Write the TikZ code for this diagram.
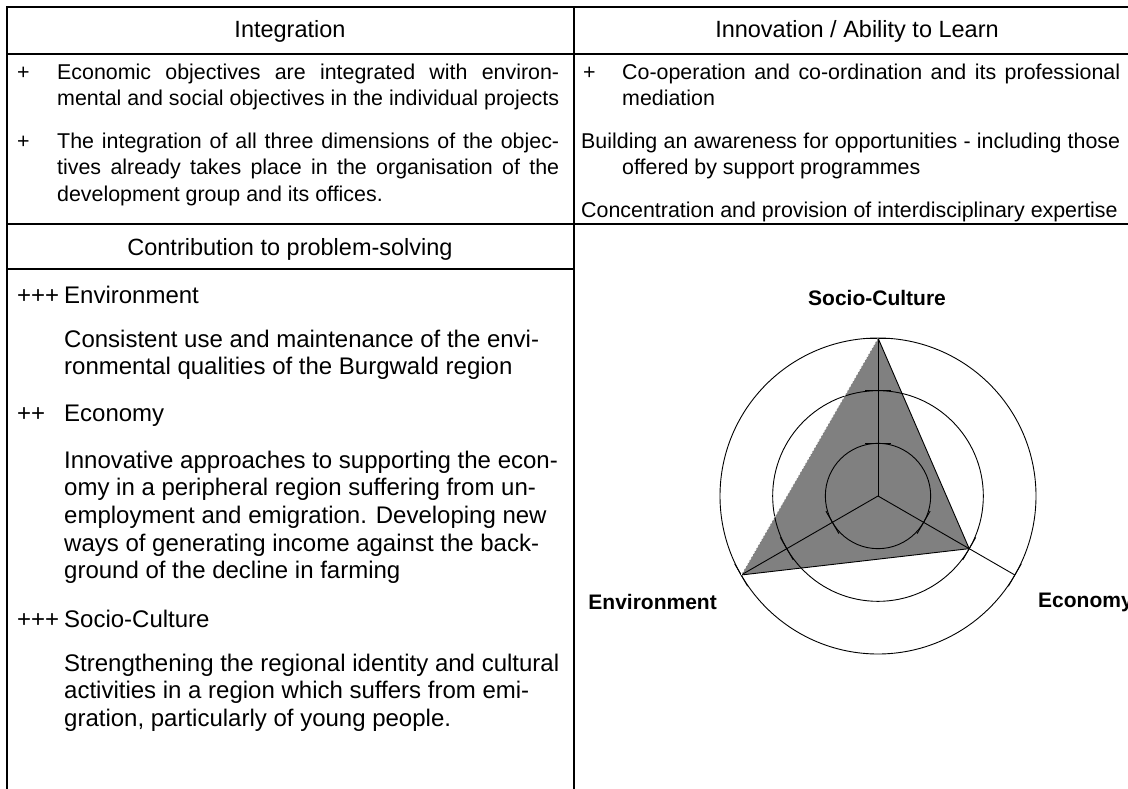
\documentclass[tikz,border=0pt]{standalone}
\usepackage{fontspec}
\setmainfont{Liberation Sans}
\begin{document}
\begin{tikzpicture}[x=1pt,y=-1pt,
  rule/.style={line width=2pt},
  hdr/.style={font=\fontsize{23.5}{27}\selectfont, inner sep=0pt, anchor=base},
  up/.style={font=\fontsize{21.4}{26}\selectfont, inner sep=0pt, anchor=base west},
  low/.style={font=\fontsize{24}{27.7}\selectfont, inner sep=0pt, anchor=base west},
  lab/.style={font=\fontsize{21}{25}\selectfont\bfseries, inner sep=0pt},
  grid/.style={line width=0.9pt},
  edge/.style={line width=0.9pt}
]
\useasboundingbox (0,0) rectangle (1128,789);
% table rules
\draw[rule] (7,790) -- (7,7) -- (1130,7);
\draw[rule] (574,7) -- (574,790);
\draw[rule] (7,54) -- (1130,54);
\draw[rule] (7,224) -- (1130,224);
\draw[rule] (7,269) -- (574,269);
% headers
\node[hdr] (h1) at (290,38) {Integration};
\node[hdr] (h2) at (857,38) {Innovation / Ability to Learn};
\node[hdr] (h3) at (290,255) {Contribution to problem-solving};
% upper left
\node[up] (p1) at (17,79.5) {+};
\node[up] (t1a) at (57,79.5) {\makebox[502pt][s]{Economic objectives are integrated with environ-}};
\node[up] (t1b) at (57,105.5) {\makebox[502pt][s]{mental and social objectives in the individual projects}};
\node[up] (p2) at (17,149) {+};
\node[up] (t2a) at (57,149) {\makebox[502pt][s]{The integration of all three dimensions of the objec-}};
\node[up] (t2b) at (57,175) {\makebox[502pt][s]{tives already takes place in the organisation of the}};
\node[up] (t2c) at (57,201) {development group and its offices.};
% upper right
\node[up] (p3) at (583,79.5) {+};
\node[up] (r1a) at (622,79.5) {\makebox[498pt][s]{Co-operation and co-ordination and its professional}};
\node[up] (r1b) at (622,105.5) {mediation};
\node[up] (r2a) at (581,149) {\makebox[539pt][s]{Building an awareness for opportunities - including those}};
\node[up] (r2b) at (622,175) {offered by support programmes};
\node[up] (r3) at (581,218) {Concentration and provision of interdisciplinary expertise};
% lower left
\node[low] (q1) at (17,303) {+++};
\node[low] (e0) at (64,303) {Environment};
\node[low] (e1) at (64,347) {Consistent use and maintenance of the envi-};
\node[low] (e2) at (64,374.7) {ronmental qualities of the Burgwald region};
\node[low] (q2) at (17,421) {++};
\node[low] (c0) at (64,421) {Economy};
\node[low] (c1) at (64,468) {Innovative approaches to supporting the econ-};
\node[low] (c2) at (64,495.7) {omy in a peripheral region suffering from un-};
\node[low] (c3) at (64,523.4) {employment and emigration. Developing new};
\node[low] (c4) at (64,551.1) {ways of generating income against the back-};
\node[low] (c5) at (64,578.8) {ground of the decline in farming};
\node[low] (q3) at (17,627) {+++};
\node[low] (s0) at (64,627) {Socio-Culture};
\node[low] (s1) at (64,671) {Strengthening the regional identity and cultural};
\node[low] (s2) at (64,698.7) {activities in a region which suffers from emi-};
\node[low] (s3) at (64,726.4) {gration, particularly of young people.};
% radar
\coordinate (C) at (878,496);
\path (C) ++(90:158pt) coordinate (S);
\path (C) ++(210:158pt) coordinate (En);
\path (C) ++(330:105.3pt) coordinate (Ec);
\path (C) ++(330:158pt) coordinate (EcA);
\fill[gray] (S) -- (Ec) -- (En) -- cycle;
\foreach \r in {52.67,105.33,158} {\draw[grid] (C) circle[radius=\r pt];}
\draw[grid] (C) -- (S);
\draw[grid] (C) -- (En);
\draw[grid] (C) -- (EcA);
\foreach \a in {90,210,330} {
  \foreach \r in {52.67,105.33,158} {
    \draw[grid] (C) ++(\a:\r pt) ++(\a+90:13pt) -- ++(\a-90:26pt);
  }
}
\draw[edge] (S) -- (Ec) -- (En);
\draw[white, line width=0.8pt, dash pattern=on 2pt off 1.5pt] (En) -- (S);
\node[lab, anchor=center] (ls) at (877,298) {Socio-Culture};
\node[lab, anchor=east] (le) at (717,602) {Environment};
\node[lab, anchor=west] (lc) at (1038,602) {Economy};
\end{tikzpicture}
\end{document}
